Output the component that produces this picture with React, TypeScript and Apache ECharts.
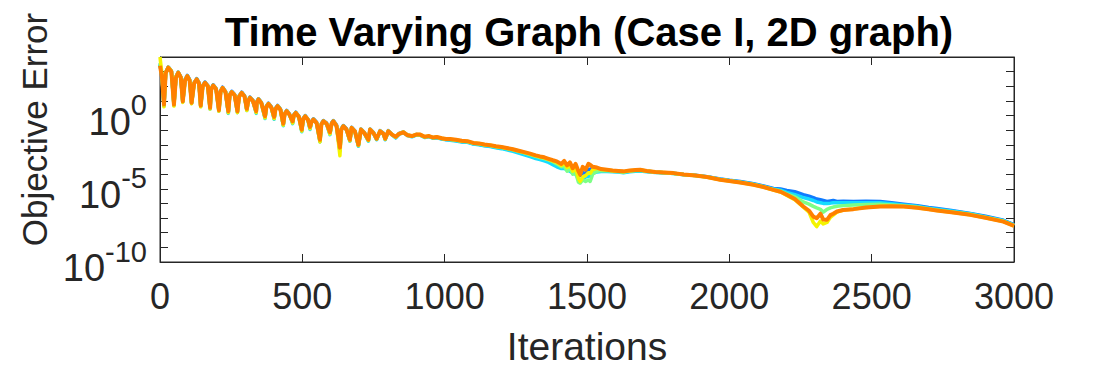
import { useEffect, useRef } from "react";
import * as echarts from "echarts";

const iterations = [
  0, 7, 14, 20, 29, 40, 49, 56, 64, 73,
  80, 88, 96, 104, 111, 120, 129, 137, 143, 150,
  158, 168, 176, 180, 187, 197, 207, 213, 220, 230,
  240, 245, 252, 262, 272, 278, 287, 297, 305, 310,
  316, 326, 338, 340, 346, 356, 369, 374, 381, 391,
  401, 406, 413, 423, 433, 438, 445, 455, 466, 470,
  477, 488, 498, 503, 510, 520, 527, 532, 539, 550,
  562, 567, 574, 585, 597, 603, 609, 620, 632, 637,
  644, 655, 667, 673, 685, 697, 706, 718, 732, 738,
  750, 761, 773, 785, 791, 802, 815, 828, 840, 855,
  870, 885, 900, 914, 930, 945, 960, 972, 990, 1005,
  1019, 1040, 1060, 1080, 1101, 1120, 1140, 1160, 1180, 1200,
  1218, 1240, 1260, 1280, 1300, 1320, 1335, 1350, 1365, 1380,
  1394, 1410, 1420, 1430, 1440, 1450, 1460, 1470, 1476, 1485,
  1495, 1505, 1511, 1520, 1535, 1550, 1570, 1590, 1610, 1628,
  1650, 1670, 1687, 1710, 1740, 1770, 1804, 1840, 1880, 1921,
  1968, 2000, 2038, 2085, 2120, 2155, 2180, 2202, 2230, 2260,
  2280, 2295, 2307, 2320, 2330, 2343, 2355, 2365, 2378, 2400,
  2436, 2480, 2530, 2570, 2612, 2660, 2700, 2729, 2780, 2846,
  2900, 2963, 3000,
];

// log10(objective error) for each run
const blueLog = [
  3.5, 2.7, 0.7, 2.95, 3.32, 3.05, 0.8, 2.65, 2.97, 2.65,
  1.0, 2.45, 2.74, 2.45, 0.9, 2.25, 2.52, 2.25, 0.7, 2.05,
  2.29, 2.05, 0.55, 1.85, 2.1, 1.85, 0.4, 1.7, 1.94, 1.65,
  0.2, 1.45, 1.66, 1.45, 0.35, 1.35, 1.6, 1.35, 0.4, 1.05,
  1.26, 1.05, 0.25, 0.95, 1.15, 0.9, -0.1, 0.65, 0.85, 0.6,
  -0.15, 0.5, 0.69, 0.45, -0.6, 0.15, 0.35, 0.1, -0.45, 0.05,
  0.23, -0.05, -1.0, -0.2, 0.0, -0.25, -0.85, -0.4, -0.22, -0.45,
  -1.7, -0.55, -0.34, -0.5, -1.2, -0.5, -0.34, -0.65, -2.3, -0.9,
  -0.68, -0.9, -1.7, -0.8, -1.05, -2.05, -0.92, -1.15, -1.7, -0.92,
  -1.15, -1.62, -1.03, -1.2, -1.62, -1.03, -1.27, -1.5, -1.22, -1.12,
  -1.33, -1.42, -1.3, -1.32, -1.48, -1.42, -1.53, -1.5, -1.58, -1.63,
  -1.65, -1.7, -1.78, -1.8, -1.93, -1.96, -2.04, -2.08, -2.16, -2.22,
  -2.28, -2.38, -2.48, -2.58, -2.7, -2.82, -2.9, -2.98, -3.08, -3.18,
  -3.28, -3.45, -3.4, -3.6, -3.55, -3.8, -3.7, -3.95, -4.1, -3.9,
  -3.95, -3.7, -3.65, -3.7, -3.68, -3.75, -3.78, -3.8, -3.82, -3.86,
  -3.8, -3.76, -3.74, -3.8, -3.86, -3.9, -3.94, -4.02, -4.08, -4.17,
  -4.33, -4.42, -4.5, -4.65, -4.8, -4.98, -5.02, -5.11, -5.2, -5.4,
  -5.5, -5.6, -5.7, -5.75, -5.8, -5.87, -5.83, -5.8, -5.87, -5.85,
  -5.87, -5.85, -5.87, -5.95, -6.05, -6.15, -6.28, -6.35, -6.48, -6.68,
  -6.88, -7.15, -7.45,
];

const cyanLog = [
  3.45, 2.65, 0.65, 2.92, 3.28, 3.02, 0.7, 2.62, 2.94, 2.62,
  0.92, 2.42, 2.7, 2.42, 0.82, 2.22, 2.48, 2.22, 0.62, 2.02,
  2.25, 2.02, 0.45, 1.82, 2.06, 1.82, 0.3, 1.67, 1.9, 1.62,
  0.15, 1.42, 1.62, 1.42, 0.2, 1.32, 1.56, 1.32, 0.35, 1.02,
  1.22, 1.02, 0.15, 0.92, 1.12, 0.87, -0.2, 0.62, 0.82, 0.57,
  -0.25, 0.47, 0.66, 0.42, -0.7, 0.12, 0.32, 0.07, -0.55, 0.02,
  0.2, -0.12, -1.1, -0.27, -0.07, -0.32, -0.95, -0.47, -0.29, -0.52,
  -1.8, -0.62, -0.41, -0.57, -1.3, -0.57, -0.41, -0.72, -2.4, -0.97,
  -0.75, -0.97, -1.75, -0.86, -1.12, -2.1, -0.98, -1.22, -1.75, -0.98,
  -1.22, -1.65, -1.09, -1.27, -1.65, -1.09, -1.32, -1.52, -1.27, -1.16,
  -1.37, -1.45, -1.33, -1.34, -1.5, -1.44, -1.55, -1.52, -1.6, -1.66,
  -1.68, -1.73, -1.8, -1.83, -1.95, -1.99, -2.07, -2.12, -2.2, -2.26,
  -2.34, -2.44, -2.56, -2.68, -2.8, -2.93, -3.0, -3.1, -3.2, -3.35,
  -3.5, -3.62, -3.6, -3.72, -3.8, -3.92, -4.0, -4.3, -4.5, -4.3,
  -4.2, -4.15, -4.1, -3.95, -3.85, -3.82, -3.82, -3.84, -3.86, -3.9,
  -3.84, -3.8, -3.78, -3.83, -3.88, -3.91, -3.96, -4.04, -4.1, -4.18,
  -4.34, -4.44, -4.54, -4.68, -4.84, -5.02, -5.1, -5.25, -5.4, -5.6,
  -5.7, -5.8, -5.9, -5.95, -6.0, -6.0, -5.98, -5.95, -5.95, -5.96,
  -5.95, -5.95, -5.95, -6.02, -6.1, -6.2, -6.32, -6.4, -6.52, -6.7,
  -6.92, -7.18, -7.48,
];

const greenLog = [
  3.6, 2.7, 0.7, 2.9, 3.25, 3.0, 0.72, 2.6, 2.9, 2.6,
  0.95, 2.4, 2.67, 2.4, 0.85, 2.2, 2.45, 2.2, 0.65, 2.0,
  2.22, 2.0, 0.5, 1.8, 2.03, 1.8, 0.35, 1.65, 1.87, 1.6,
  0.25, 1.4, 1.58, 1.4, 0.25, 1.3, 1.53, 1.3, 0.4, 1.0,
  1.19, 1.0, 0.25, 0.9, 1.08, 0.85, -0.15, 0.6, 0.78, 0.55,
  -0.2, 0.45, 0.62, 0.4, -0.65, 0.1, 0.28, 0.05, -0.5, 0.0,
  0.16, -0.1, -1.05, -0.25, -0.07, -0.3, -0.9, -0.45, -0.29, -0.5,
  -1.75, -0.6, -0.41, -0.55, -1.25, -0.55, -0.41, -0.7, -2.45, -0.95,
  -0.75, -0.95, -1.7, -0.86, -1.1, -2.05, -0.98, -1.2, -1.7, -0.98,
  -1.2, -1.6, -1.09, -1.25, -1.6, -1.09, -1.3, -1.48, -1.26, -1.15,
  -1.36, -1.42, -1.32, -1.32, -1.47, -1.42, -1.52, -1.48, -1.57, -1.62,
  -1.63, -1.68, -1.75, -1.78, -1.9, -1.93, -2.01, -2.05, -2.13, -2.18,
  -2.25, -2.34, -2.44, -2.55, -2.66, -2.78, -2.86, -2.93, -3.03, -3.15,
  -3.3, -3.5, -3.45, -3.8, -3.6, -4.0, -3.9, -4.55, -4.61, -4.4,
  -4.5, -4.4, -4.5, -4.0, -3.8, -3.75, -3.76, -3.8, -3.82, -3.85,
  -3.79, -3.76, -3.73, -3.8, -3.87, -3.9, -3.95, -4.03, -4.1, -4.2,
  -4.36, -4.45, -4.55, -4.7, -4.86, -5.05, -5.15, -5.35, -5.55, -5.9,
  -6.05, -6.2, -6.3, -6.4, -6.6, -6.4, -6.3, -6.25, -6.2, -6.15,
  -6.1, -6.08, -6.05, -6.1, -6.15, -6.25, -6.36, -6.44, -6.56, -6.74,
  -6.95, -7.2, -7.5,
];

const yellowLog = [
  4.0, 2.8, 0.6, 2.95, 3.3, 3.05, 0.65, 2.65, 2.95, 2.62,
  0.9, 2.42, 2.7, 2.42, 0.8, 2.22, 2.48, 2.22, 0.6, 2.02,
  2.25, 2.02, 0.45, 1.82, 2.06, 1.82, 0.3, 1.67, 1.9, 1.62,
  0.2, 1.42, 1.62, 1.42, 0.2, 1.32, 1.57, 1.32, 0.35, 1.02,
  1.23, 1.02, 0.2, 0.92, 1.12, 0.87, -0.15, 0.62, 0.82, 0.57,
  -0.2, 0.47, 0.66, 0.42, -0.65, 0.12, 0.32, 0.07, -0.5, 0.02,
  0.2, -0.08, -1.05, -0.22, -0.03, -0.28, -0.88, -0.43, -0.25, -0.48,
  -1.8, -0.58, -0.37, -0.53, -1.25, -0.53, -0.37, -0.68, -2.74, -0.93,
  -0.71, -0.93, -1.72, -0.82, -1.08, -2.05, -0.94, -1.18, -1.7, -0.94,
  -1.18, -1.6, -1.05, -1.23, -1.6, -1.05, -1.28, -1.47, -1.23, -1.12,
  -1.33, -1.4, -1.29, -1.3, -1.45, -1.4, -1.5, -1.47, -1.55, -1.6,
  -1.61, -1.66, -1.73, -1.76, -1.88, -1.91, -1.99, -2.03, -2.11, -2.16,
  -2.23, -2.32, -2.42, -2.52, -2.63, -2.75, -2.82, -2.89, -2.99, -3.1,
  -3.2, -3.4, -3.25, -3.55, -3.4, -3.8, -3.6, -4.3, -4.5, -4.2,
  -4.1, -3.9, -3.95, -3.7, -3.6, -3.68, -3.72, -3.77, -3.8, -3.83,
  -3.77, -3.74, -3.72, -3.79, -3.86, -3.89, -3.94, -4.03, -4.1, -4.2,
  -4.38, -4.47, -4.57, -4.72, -4.88, -5.08, -5.22, -5.45, -5.75, -6.25,
  -6.6, -7.3, -7.58, -7.2, -7.4, -7.3, -6.95, -6.8, -6.6, -6.45,
  -6.38, -6.27, -6.2, -6.2, -6.21, -6.3, -6.4, -6.48, -6.6, -6.78,
  -6.98, -7.24, -7.53,
];

const orangeLog = [
  3.4, 2.6, 0.75, 2.9, 3.27, 3.0, 0.75, 2.6, 2.92, 2.6,
  0.98, 2.4, 2.69, 2.4, 0.87, 2.2, 2.47, 2.2, 0.68, 2.0,
  2.24, 2.0, 0.53, 1.8, 2.05, 1.8, 0.37, 1.65, 1.89, 1.6,
  0.3, 1.4, 1.6, 1.4, 0.3, 1.3, 1.55, 1.3, 0.46, 1.0,
  1.21, 1.0, 0.3, 0.9, 1.1, 0.85, -0.05, 0.6, 0.8, 0.55,
  -0.09, 0.45, 0.64, 0.4, -0.55, 0.1, 0.3, 0.05, -0.39, 0.0,
  0.18, -0.1, -0.96, -0.25, -0.05, -0.3, -0.78, -0.45, -0.27, -0.5,
  -1.65, -0.6, -0.39, -0.55, -1.14, -0.55, -0.39, -0.7, -2.19, -0.95,
  -0.73, -0.95, -1.65, -0.84, -1.1, -1.99, -0.96, -1.2, -1.65, -0.96,
  -1.2, -1.58, -1.07, -1.25, -1.58, -1.07, -1.3, -1.45, -1.25, -1.14,
  -1.35, -1.4, -1.3, -1.3, -1.45, -1.4, -1.5, -1.46, -1.55, -1.6,
  -1.6, -1.65, -1.72, -1.75, -1.87, -1.9, -1.98, -2.02, -2.1, -2.15,
  -2.21, -2.3, -2.4, -2.5, -2.6, -2.72, -2.79, -2.85, -2.95, -3.05,
  -3.13, -3.3, -3.1, -3.4, -3.2, -3.6, -3.3, -3.8, -4.04, -3.5,
  -3.7, -3.3, -3.36, -3.5, -3.55, -3.65, -3.7, -3.75, -3.78, -3.81,
  -3.75, -3.72, -3.7, -3.78, -3.85, -3.88, -3.93, -4.02, -4.1, -4.2,
  -4.38, -4.47, -4.57, -4.73, -4.88, -5.07, -5.2, -5.41, -5.7, -6.21,
  -6.5, -6.9, -7.01, -6.7, -7.1, -7.12, -6.8, -6.7, -6.55, -6.45,
  -6.39, -6.28, -6.21, -6.2, -6.21, -6.3, -6.4, -6.48, -6.6, -6.78,
  -6.98, -7.24, -7.53,
];

const runNames = ["Run 1", "Run 2", "Run 3", "Run 4", "Run 5"];
const runValues = [blueLog, cyanLog, greenLog, yellowLog, orangeLog];
const runColors = ["#0f7bff", "#14dcff", "#7dff86", "#f4f400", "#ff8000"];

const titleText = "Time Varying Graph (Case I, 2D graph)";
const xAxisTitle = "Iterations";
const yAxisTitle = "Objective Error";
const labelledDecades = [0, -5, -10];

export default function App() {
  const ref = useRef<HTMLDivElement>(null);

  useEffect(() => {
    if (!ref.current) return;
    const chart = echarts.init(ref.current, null, { renderer: "svg" });
    const font = "'Liberation Sans', Arial, Helvetica, sans-serif";
    const ink = "#262626";
    const axisLine = { show: true, onZero: false, lineStyle: { color: ink, width: 1 } };
    const tick = { show: true, inside: true, length: 8, lineStyle: { color: ink, width: 1 } };

    chart.setOption({
      animation: false,
      backgroundColor: "#ffffff",
      title: {
        text: titleText,
        left: 584,
        top: 7,
        textAlign: "center",
        textStyle: { fontFamily: font, fontSize: 40, fontWeight: "bold", color: "#000000" },
      },
      grid: {
        left: 160,
        right: 106,
        top: 57,
        bottom: 110,
        show: true,
        borderColor: ink,
        borderWidth: 1,
        backgroundColor: "#ffffff",
      },
      xAxis: [
        {
          type: "value",
          min: 0,
          max: 3000,
          interval: 500,
          position: "bottom",
          name: xAxisTitle,
          nameLocation: "middle",
          nameGap: 65,
          nameTextStyle: { fontFamily: font, fontSize: 39, color: ink },
          axisLine,
          axisTick: tick,
          axisLabel: {
            margin: 16,
            fontFamily: font,
            fontSize: 36,
            color: ink,
            formatter: (v: number) => String(v),
          },
          splitLine: { show: false },
        },
        {
          type: "value",
          min: 0,
          max: 3000,
          interval: 500,
          position: "top",
          axisLine,
          axisTick: tick,
          axisLabel: { show: false },
          splitLine: { show: false },
        },
      ],
      yAxis: [
        {
          type: "value",
          min: -10,
          max: 4,
          interval: 1,
          position: "left",
          name: yAxisTitle,
          nameLocation: "middle",
          nameGap: 106,
          nameRotate: 90,
          nameTextStyle: { fontFamily: font, fontSize: 35, color: ink, padding: [0, 0, 0, 60] },
          axisLine,
          axisTick: tick,
          axisLabel: {
            margin: 13,
            formatter: (v: number) =>
              labelledDecades.includes(Math.round(v)) ? `{b|10}{s|${Math.round(v)}}` : "",
            rich: {
              b: { fontFamily: font, fontSize: 38, color: ink, lineHeight: 50, verticalAlign: "bottom" },
              s: { fontFamily: font, fontSize: 29, color: ink, lineHeight: 50, verticalAlign: "top" },
            },
          },
          splitLine: { show: false },
        },
        {
          type: "value",
          min: -10,
          max: 4,
          interval: 1,
          position: "right",
          axisLine,
          axisTick: tick,
          axisLabel: { show: false },
          splitLine: { show: false },
        },
      ],
      series: runNames.map((name, k) => ({
        name,
        type: "line",
        xAxisIndex: 0,
        yAxisIndex: 0,
        showSymbol: false,
        symbol: "none",
        data: iterations.map((it, i) => [it, runValues[k][i]]),
        lineStyle: { color: runColors[k], width: k === 4 ? 4 : 3.5, join: "round" },
        itemStyle: { color: runColors[k] },
        z: 2 + k,
      })),
    });

    return () => chart.dispose();
  }, []);

  return (
    <div
      ref={ref}
      style={{ position: "fixed", left: 0, top: 0, width: 1120, height: 372 }}
    />
  );
}
